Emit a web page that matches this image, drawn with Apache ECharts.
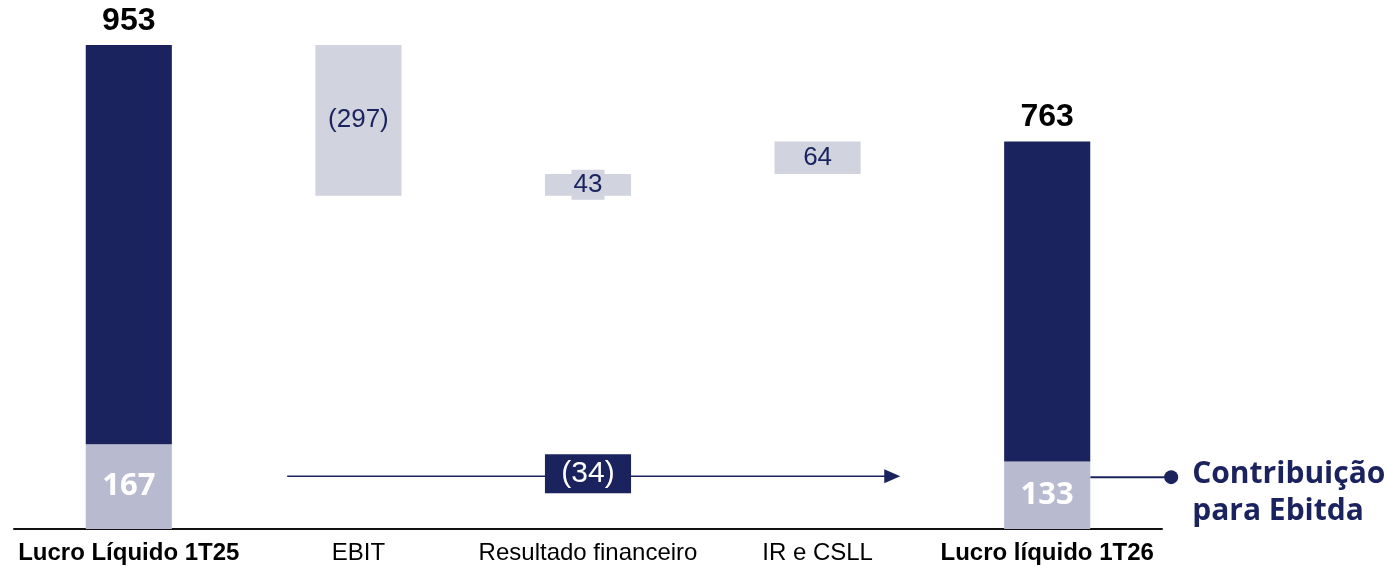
<!DOCTYPE html>
<html>
<head>
<meta charset="utf-8">
<script src="https://cdn.jsdelivr.net/npm/echarts@6/dist/echarts.min.js"></script>
<style>
    html, body { margin: 0; padding: 0; background: #fff; }
    #chart { width: 1389px; height: 567px; }
</style>
</head>
<body>
<div id="chart"></div>
<script>
// data
const categories = ['Lucro Líquido 1T25', 'EBIT', 'Resultado financeiro', 'IR e CSLL', 'Lucro líquido 1T26']
const startTotal = 953
const endTotal = 763
const deltas = [-297, 43, 64]             // EBIT, Resultado financeiro, IR e CSLL
const ebitdaShare = [167, 133]            // light part of the first / last bar
const ebitdaChange = -34

const NAVY = '#1a235e'
const DELTA = '#d1d3df'
const SHARE = '#b8bbd0'
const ANNOT_LEVEL = 104                   // y level of the (34) arrow

const fmt = v => (v < 0 ? '(' + Math.abs(v) + ')' : String(v))

// waterfall helpers built from the arrays above
const baseData = ['-']
const deltaData = ['-']
let running = startTotal
deltas.forEach(d => {
    const next = running + d
    baseData.push(Math.min(running, next))
    deltaData.push({ value: Math.abs(d), raw: d })
    running = next
})
baseData.push('-')
deltaData.push('-')
const shareData = [ebitdaShare[0], '-', '-', '-', ebitdaShare[1]]
const darkData = [
    { value: startTotal - ebitdaShare[0], total: startTotal },
    '-', '-', '-',
    { value: endTotal - ebitdaShare[1], total: endTotal }
]

const chart = echarts.init(document.getElementById('chart'))

const boldCats = [categories[0], categories[4]]

chart.setOption({
    animation: false,
    grid: { left: 14, right: 227, top: 21, bottom: 38 },
    xAxis: {
        type: 'category',
        data: categories,
        axisLine: { lineStyle: { color: '#111', width: 2 } },
        axisTick: { show: false },
        axisLabel: {
            interval: 0,
            margin: 12,
            fontFamily: 'Liberation Sans, Arial',
            fontSize: 24,
            color: '#000',
            formatter: v => (boldCats.includes(v) ? '{b|' + v + '}' : v),
            rich: { b: { fontWeight: 'bold', fontSize: 24, fontFamily: 'Liberation Sans, Arial', color: '#000' } }
        }
    },
    yAxis: { type: 'value', min: 0, max: 1000, show: false, splitLine: { show: false } },
    series: [
        {
            type: 'bar', stack: 'w', barWidth: '37.5%',
            data: shareData,
            itemStyle: { color: SHARE },
            label: {
                show: true, position: 'inside',
                fontFamily: 'Open Sans', fontWeight: 'bold', fontSize: 31, color: '#fff'
            }
        },
        {
            type: 'bar', stack: 'w',
            data: baseData,
            itemStyle: { color: 'transparent' }
        },
        {
            type: 'bar', stack: 'w',
            data: deltaData,
            itemStyle: { color: DELTA },
            label: {
                show: true, position: 'inside',
                fontFamily: 'Liberation Sans, Arial', fontSize: 26, color: NAVY,
                backgroundColor: DELTA, padding: [3, 2, 1, 2],
                formatter: p => fmt(p.data.raw)
            }
        },
        {
            type: 'bar', stack: 'w',
            data: darkData,
            itemStyle: { color: NAVY },
            label: {
                show: true, position: 'top', distance: 8,
                fontFamily: 'Liberation Sans, Arial', fontWeight: 'bold', fontSize: 32, color: '#000',
                formatter: p => String(p.data.total)
            }
        }
    ]
})

// annotations placed through the chart's own scales
const px = (cat, v) => chart.convertToPixel({ xAxisIndex: 0, yAxisIndex: 0 }, [cat, v])
const c0 = px(categories[0], 0)
const band = px(categories[1], 0)[0] - c0[0]
const barW = band * 0.375
const ay = px(categories[2], ANNOT_LEVEL)[1]
const x1 = px(categories[1], 0)[0] - 0.31 * band
const x2 = px(categories[3], 0)[0] + 0.36 * band
const xMid = px(categories[2], 0)[0]
const xLast = px(categories[4], 0)[0]
const dotX = xLast + 0.54 * band

chart.setOption({
    graphic: [
        { type: 'line', shape: { x1: x1, y1: ay, x2: x2 - 14, y2: ay }, style: { stroke: NAVY, lineWidth: 1.5 } },
        { type: 'polygon', shape: { points: [[x2 - 16, ay - 7], [x2, ay], [x2 - 16, ay + 7]] }, style: { fill: NAVY } },
        {
            type: 'rect', shape: { x: xMid - barW / 2, y: ay - 22, width: barW, height: 39 },
            style: { fill: NAVY }
        },
        {
            type: 'text', x: xMid, y: ay - 2,
            style: {
                text: fmt(ebitdaChange), fill: '#fff', fontSize: 30,
                fontFamily: 'Liberation Sans, Arial', align: 'center', verticalAlign: 'middle'
            }
        },
        { type: 'line', shape: { x1: xLast + barW / 2, y1: ay + 1, x2: dotX, y2: ay + 1 }, style: { stroke: NAVY, lineWidth: 2 } },
        { type: 'circle', shape: { cx: dotX, cy: ay + 1, r: 7 }, style: { fill: NAVY } },
        {
            type: 'text', x: dotX + 21, y: ay + 17,
            style: {
                text: 'Contribuição\npara Ebitda', fill: NAVY, fontSize: 30, lineHeight: 37,
                fontWeight: 'bold', fontFamily: 'Open Sans', align: 'left', verticalAlign: 'middle'
            }
        }
    ]
})
</script>
</body>
</html>
